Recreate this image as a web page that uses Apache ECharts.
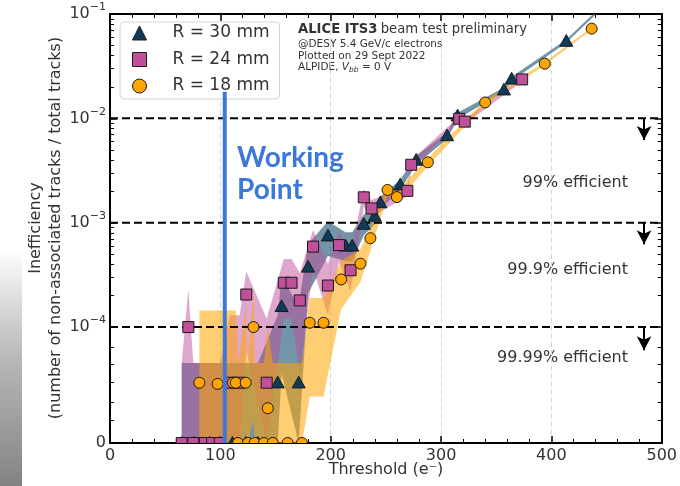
<!DOCTYPE html>
<html>
<head>
<meta charset="utf-8">
<script src="https://cdn.jsdelivr.net/npm/echarts@6/dist/echarts.min.js"></script>
<style>
  html, body { margin: 0; padding: 0; background: #fff; }
  #chart { width: 680px; height: 486px; }
</style>
</head>
<body>
<div id="chart"></div>
<script>
// ---- Data: threshold (e-), inefficiency, lower / upper band edge ----
const thrR30 = [65, 76, 90.5, 99.5, 111, 123, 134, 152, 155.5, 171, 179.5, 197.5, 213.5, 219.5, 230, 240, 245, 263, 277.5, 305.5, 315, 357, 364, 413.5, 461.5];
const ineffR30 = [0, 0, 0, 0, 0, 0, 0, 5.2e-5, 1.58e-4, 5.2e-5, 3.77e-4, 7.5e-4, 6.0e-4, 6.0e-4, 9.7e-4, 1.16e-3, 1.56e-3, 2.31e-3, 3.99e-3, 6.84e-3, 1.06e-2, 1.88e-2, 2.39e-2, 5.5e-2, 0.168];
const loR30 = [0, 0, 0, 0, 0, 0, 0, 0, 6e-5, 0, 2.1e-4, 4.8e-4, 4.3e-4, 4.3e-4, 7.6e-4, 9.6e-4, 1.36e-3, 2.06e-3, 3.62e-3, 6.35e-3, 9.9e-3, 1.79e-2, 2.28e-2, 5.3e-2, 0.163];
const hiR30 = [6.9e-5, 6.9e-5, 6.9e-5, 6.9e-5, 6.9e-5, 6.9e-5, 6.9e-5, 1.3e-4, 3.0e-4, 1.6e-4, 6.2e-4, 1.03e-3, 8.1e-4, 8.1e-4, 1.2e-3, 1.4e-3, 1.78e-3, 2.58e-3, 4.38e-3, 7.35e-3, 1.13e-2, 1.97e-2, 2.5e-2, 5.7e-2, 0.173];

const thrR24 = [65, 71, 75.5, 86, 92.5, 99.5, 108.5, 117.5, 123.5, 142, 157.5, 164.5, 172, 184, 197.5, 207.5, 218, 230, 237, 269.5, 273, 316.5, 321.5, 373.5];
const ineffR24 = [0, 1.0e-4, 0, 0, 0, 0, 5.2e-5, 5.2e-5, 2.05e-4, 5.2e-5, 2.66e-4, 2.66e-4, 1.8e-4, 5.9e-4, 2.5e-4, 6.1e-4, 3.5e-4, 1.75e-3, 1.37e-3, 2.02e-3, 3.59e-3, 9.9e-3, 9.3e-3, 2.36e-2];
const loR24 = [0, 0, 0, 0, 0, 0, 0, 0, 8e-5, 0, 1.2e-4, 1.2e-4, 6e-5, 3.6e-4, 1.3e-4, 4.2e-4, 2.2e-4, 1.42e-3, 1.13e-3, 1.8e-3, 3.25e-3, 9.3e-3, 8.8e-3, 2.26e-2];
const hiR24 = [6.9e-5, 2.3e-4, 6.9e-5, 6.9e-5, 6.9e-5, 6.9e-5, 1.3e-4, 1.3e-4, 3.4e-4, 1.2e-4, 4.5e-4, 4.5e-4, 3.3e-4, 8.5e-4, 4.0e-4, 8.3e-4, 5.0e-4, 2.1e-3, 1.65e-3, 2.25e-3, 3.95e-3, 1.05e-2, 9.8e-3, 2.46e-2];

const thrR18 = [81, 97.5, 111.5, 114, 116, 123, 125, 130, 131, 139.5, 143, 147.5, 161, 174, 181, 193.5, 209.5, 227, 236, 251.5, 260, 288, 340, 394, 436.5];
const ineffR18 = [5.2e-5, 5.1e-5, 5.2e-5, 5.2e-5, 0, 5.2e-5, 0, 1.0e-4, 0, 0, 3.0e-5, 0, 0, 0, 1.1e-4, 1.1e-4, 2.86e-4, 4.05e-4, 7.1e-4, 2.06e-3, 1.76e-3, 3.79e-3, 1.42e-2, 3.34e-2, 7.24e-2];
const loR18 = [0, 0, 0, 0, 0, 0, 0, 2e-5, 0, 0, 0, 0, 0, 0, 4e-5, 4e-5, 1.5e-4, 2.7e-4, 5.4e-4, 1.82e-3, 1.56e-3, 3.47e-3, 1.35e-2, 3.22e-2, 7.05e-2];
const hiR18 = [1.44e-4, 1.44e-4, 1.44e-4, 1.44e-4, 6.9e-5, 1.44e-4, 6.9e-5, 2.3e-4, 6.9e-5, 6.9e-5, 1.0e-4, 6.9e-5, 6.9e-5, 6.9e-5, 1.9e-4, 1.9e-4, 4.3e-4, 5.6e-4, 9.0e-4, 2.3e-3, 2.0e-3, 4.15e-3, 1.49e-2, 3.46e-2, 7.45e-2];

const seriesNames = ['R = 30 mm', 'R = 24 mm', 'R = 18 mm'];

// Efficiency levels (dashed lines) and where their arrows point to
const effLevels = [1e-2, 1e-3, 1e-4];
const effArrowTo = [6.2e-3, 6.2e-4, 8.0e-5];
const effLabels = ['99% efficient', '99.9% efficient', '99.99% efficient'];
const arrowThreshold = 484;

// Working point marker
const workingPoint = 104;
const workingPointTop = 0.018;

// Axis ticks
const majorTickVals = [0, 1e-4, 1e-3, 1e-2, 1e-1];
const majorTickText = ['{b|0}', '{b|10}{s|−4}', '{b|10}{s|−3}', '{b|10}{s|−2}', '{b|10}{s|−1}'];
const minorTickVals = [2e-5, 3.5e-5, 5.2e-5, 6.75e-5, 8.3e-5,
  2e-4, 3e-4, 4e-4, 5e-4, 6e-4, 7e-4, 8e-4, 9e-4,
  2e-3, 3e-3, 4e-3, 5e-3, 6e-3, 7e-3, 8e-3, 9e-3,
  2e-2, 3e-2, 4e-2, 5e-2, 6e-2, 7e-2, 8e-2, 9e-2];

// ---- Symmetric-log scale: linear below 1e-4, logarithmic above ----
const LIN_THRESH = 1e-4;
const LIN_SPAN = 1 / (1 - 1 / 10);   // decades occupied by the linear part
function symlog(v) {
  return v <= LIN_THRESH ? (v / LIN_THRESH) * LIN_SPAN : LIN_SPAN + Math.log10(v / LIN_THRESH);
}
const Y_MAX = symlog(0.1);

const FONT = 'DejaVu Sans';
const TEXT = '#333';

const groups = [
  { name: seriesNames[0], thr: thrR30, val: ineffR30, lo: loR30, hi: hiR30, symbol: 'triangle', size: 13, color: '#0f3b58', band: 'rgba(22,78,112,0.6)' },
  { name: seriesNames[1], thr: thrR24, val: ineffR24, lo: loR24, hi: hiR24, symbol: 'rect', size: 11, color: '#c1509b', band: 'rgba(192,80,154,0.5)' },
  { name: seriesNames[2], thr: thrR18, val: ineffR18, lo: loR18, hi: hiR18, symbol: 'circle', size: 11, color: '#ffa500', band: 'rgba(255,165,0,0.55)' }
];

const series = [];

// Uncertainty bands: one filled polygon per radius, between lower and upper edge
groups.forEach(g => {
  series.push({
    type: 'custom', silent: true, clip: true, z: 1,
    encode: { x: 0, y: [1, 2] },
    data: g.thr.map((x, i) => [x, symlog(g.lo[i]), symlog(g.hi[i])]),
    renderItem: function (params, api) {
      if (params.dataIndex !== 0) return null;
      const upper = g.thr.map((x, i) => api.coord([x, symlog(g.hi[i])]));
      const lower = g.thr.map((x, i) => api.coord([x, symlog(g.lo[i])])).reverse();
      return { type: 'polygon', shape: { points: upper.concat(lower) }, style: { fill: g.band } };
    }
  });
});

// Efficiency level lines with downward arrows
effLevels.forEach((lvl, k) => {
  series.push({
    type: 'line', silent: true, symbol: 'none', z: 3,
    lineStyle: { color: '#000', width: 2, type: [8, 4] },
    data: [[0, symlog(lvl)], [500, symlog(lvl)]],
    markLine: {
      silent: true, animation: false, z: 3,
      symbol: ['none', 'arrow'], symbolSize: [11, 14],
      lineStyle: { color: '#000', width: 2, type: 'solid' },
      label: { show: false },
      data: [[{ coord: [arrowThreshold, symlog(lvl)] }, { coord: [arrowThreshold, symlog(effArrowTo[k])] }]]
    }
  });
});

// Measured points (clipped at the plot frame, so points at zero show their upper half)
groups.forEach(g => {
  series.push({
    type: 'custom', name: g.name, clip: true, z: 5,
    itemStyle: { color: g.color },
    encode: { x: 0, y: 1 },
    data: g.thr.map((x, i) => [x, symlog(g.val[i])]),
    renderItem: function (params, api) {
      const p = api.coord([api.value(0), api.value(1)]);
      const s = g.size / 2;
      const style = { fill: g.color, stroke: '#1a1a1a', lineWidth: 1 };
      if (g.symbol === 'triangle') {
        return { type: 'polygon', shape: { points: [[p[0], p[1] - s], [p[0] + s, p[1] + s * 0.8], [p[0] - s, p[1] + s * 0.8]] }, style: style };
      }
      if (g.symbol === 'rect') {
        return { type: 'rect', shape: { x: p[0] - s, y: p[1] - s, width: 2 * s, height: 2 * s }, style: style };
      }
      return { type: 'circle', shape: { cx: p[0], cy: p[1], r: s }, style: style };
    }
  });
});

// Working point line
series.push({
  type: 'line', silent: true, symbol: 'none', z: 6,
  lineStyle: { color: '#3b78d8', width: 4 },
  data: [[workingPoint, symlog(0)], [workingPoint, symlog(workingPointTop)]]
});

function yAxisDef(position, ticks, len, withLabels) {
  return {
    type: 'value', position: position, min: 0, max: Y_MAX,
    axisLine: { show: withLabels, onZero: false, lineStyle: { color: '#000', width: 2 } },
    axisTick: { show: true, inside: true, length: len, customValues: ticks.map(symlog), lineStyle: { color: '#000', width: withLabels ? 1.5 : 1 } },
    splitLine: { show: false },
    axisLabel: withLabels && position === 'left' ? {
      show: true, margin: 4, customValues: majorTickVals.map(symlog),
      formatter: v => {
        const i = majorTickVals.findIndex(t => Math.abs(symlog(t) - v) < 1e-6);
        return i < 0 ? '' : majorTickText[i];
      },
      rich: {
        b: { fontSize: 16, fontFamily: FONT, color: TEXT, lineHeight: 24 },
        s: { fontSize: 11, fontFamily: FONT, color: TEXT, lineHeight: 12, verticalAlign: 'top' }
      }
    } : { show: false }
  };
}

function xAxisDef(position, withLabels) {
  return {
    type: 'value', position: position, min: 0, max: 500, interval: 100,
    axisLine: { show: true, onZero: false, lineStyle: { color: '#000', width: 2 } },
    axisTick: { show: true, inside: true, length: 7, lineStyle: { color: '#000', width: 1.5 } },
    minorTick: { show: true, splitNumber: 5, length: 4, lineStyle: { color: '#000', width: 1 } },
    splitLine: withLabels ? { show: true, lineStyle: { color: '#d8d8d8', width: 1, type: [5, 3] } } : { show: false },
    axisLabel: withLabels ? { show: true, fontSize: 16, fontFamily: FONT, color: TEXT, margin: 5 } : { show: false }
  };
}

const chart = echarts.init(document.getElementById('chart'), null, { renderer: 'canvas' });

const option = {
  animation: false,
  backgroundColor: '#fff',
  grid: { left: 110, right: 18, top: 14, bottom: 43, containLabel: false },
  xAxis: [xAxisDef('bottom', true), xAxisDef('top', false)],
  yAxis: [
    yAxisDef('left', majorTickVals, 7, true),
    yAxisDef('left', minorTickVals, 4, false),
    yAxisDef('right', majorTickVals, 7, true),
    yAxisDef('right', minorTickVals, 4, false)
  ],
  legend: {
    data: groups.map(g => ({
      name: g.name, icon: g.symbol,
      itemStyle: { color: g.color, borderColor: '#1a1a1a', borderWidth: 1 }
    })),
    orient: 'vertical', left: 120, top: 22,
    padding: [1, 10, 3, 12],
    itemWidth: 14, itemHeight: 14, itemGap: 6.5,
    backgroundColor: 'rgba(255,255,255,0.9)', borderColor: '#d4d4d4', borderWidth: 1, borderRadius: 4,
    textStyle: { fontSize: 17, fontFamily: FONT, color: TEXT, lineHeight: 20, padding: [0, 0, 0, 21] }
  },
  graphic: [
    // soft grey shading along the lower left edge
    {
      type: 'rect', z: -10, silent: true,
      shape: { x: 0, y: 250, width: 22, height: 236 },
      style: { fill: new echarts.graphic.LinearGradient(0, 0, 0, 1, [
        { offset: 0, color: 'rgba(150,150,150,0)' },
        { offset: 0.5, color: 'rgba(160,160,160,0.8)' },
        { offset: 1, color: 'rgba(130,130,130,1)' }
      ]) }
    },
    {
      type: 'text', silent: true, x: 298, y: 30,
      style: {
        text: '{b|ALICE ITS3} {n|beam test preliminary}',
        verticalAlign: 'middle', textVerticalAlign: 'middle',
        rich: {
          b: { fontSize: 13.2, fontWeight: 'bold', fontFamily: FONT, fill: TEXT },
          n: { fontSize: 13.2, fontFamily: FONT, fill: TEXT }
        }
      }
    },
    {
      type: 'text', silent: true, x: 298, y: 39,
      style: { text: '@DESY 5.4 GeV/c electrons\nPlotted on 29 Sept 2022', fontSize: 10.5, fontFamily: FONT, fill: TEXT, lineHeight: 11.5 }
    },
    {
      type: 'text', silent: true, x: 298, y: 61,
      style: {
        text: '{t|ALPIDE, }{i|V}{u|bb}{t| = 0 V}',
        rich: {
          t: { fontSize: 10.5, fontFamily: FONT, fill: TEXT, lineHeight: 13 },
          i: { fontSize: 10.5, fontFamily: FONT, fontStyle: 'italic', fill: TEXT, lineHeight: 13 },
          u: { fontSize: 7.5, fontFamily: FONT, fontStyle: 'italic', fill: TEXT, lineHeight: 8, verticalAlign: 'bottom' }
        }
      }
    },
    {
      type: 'text', silent: true, x: 237, y: 142, z: 10,
      style: { text: 'Working\nPoint', fontSize: 28, fontWeight: 'bold', fontFamily: 'Lato', fill: '#3b78d8', lineHeight: 32 }
    },
    {
      type: 'text', silent: true, x: 628, y: 183,
      style: { text: effLabels[0], fontSize: 16, fontFamily: FONT, fill: TEXT, align: 'right', textAlign: 'right', verticalAlign: 'middle', textVerticalAlign: 'middle' }
    },
    {
      type: 'text', silent: true, x: 628, y: 270,
      style: { text: effLabels[1], fontSize: 16, fontFamily: FONT, fill: TEXT, align: 'right', textAlign: 'right', verticalAlign: 'middle', textVerticalAlign: 'middle' }
    },
    {
      type: 'text', silent: true, x: 628, y: 358,
      style: { text: effLabels[2], fontSize: 16, fontFamily: FONT, fill: TEXT, align: 'right', textAlign: 'right', verticalAlign: 'middle', textVerticalAlign: 'middle' }
    },
    {
      type: 'text', silent: true, x: 46, y: 228, rotation: Math.PI / 2,
      style: {
        text: 'Inefficiency\n(number of non-associated tracks / total tracks)',
        fontSize: 16, fontFamily: FONT, fill: TEXT, lineHeight: 20,
        align: 'center', textAlign: 'center', verticalAlign: 'middle', textVerticalAlign: 'middle'
      }
    },
    {
      type: 'text', silent: true, x: 386, y: 470,
      style: { text: 'Threshold (e⁻)', fontSize: 16, fontFamily: FONT, fill: TEXT, align: 'center', textAlign: 'center', verticalAlign: 'middle', textVerticalAlign: 'middle' }
    }
  ],
  series: series
};

chart.setOption(option);
</script>
</body>
</html>
